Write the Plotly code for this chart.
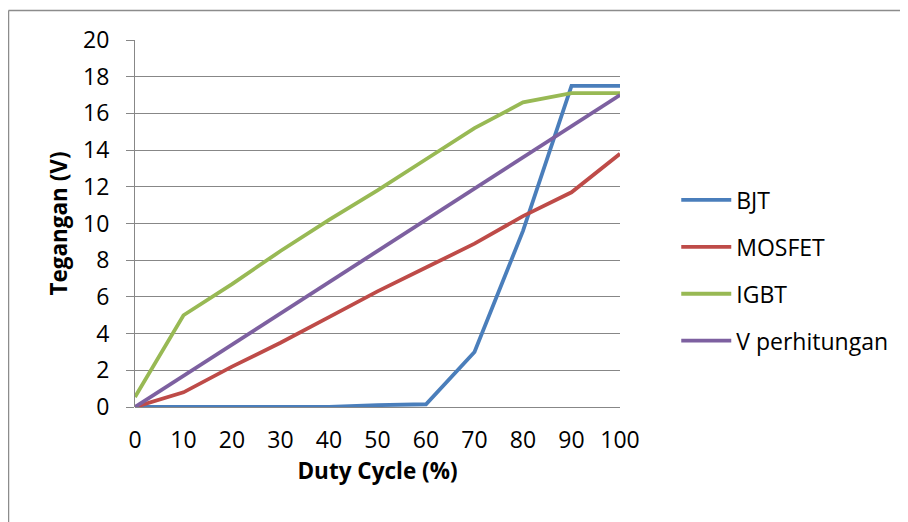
import plotly.graph_objects as go

duty = [0, 10, 20, 30, 40, 50, 60, 70, 80, 90, 100]
bjt = [0, 0, 0, 0, 0, 0.1, 0.15, 3.0, 9.6, 17.5, 17.5]
mosfet = [0, 0.8, 2.2, 3.5, 4.9, 6.3, 7.6, 8.9, 10.4, 11.7, 13.8]
igbt = [0.55, 5.0, 6.7, 8.5, 10.2, 11.8, 13.5, 15.2, 16.6, 17.1, 17.1]
v_hitung = [0, 1.7, 3.4, 5.1, 6.8, 8.5, 10.2, 11.9, 13.6, 15.3, 17.0]

names = ["BJT", "MOSFET", "IGBT", "V perhitungan"]
series = [bjt, mosfet, igbt, v_hitung]
colors = ["#4A7EBB", "#BE4B48", "#98B954", "#7D60A0"]

W, H = 908, 522
# page body has an 8px offset; margins chosen so the plot lands at 135..620 x 40..407
L, R, T, B = 127, 296, 32, 123
pw, ph = W - L - R, H - T - B

FONT = "Open Sans"
fig = go.Figure()
for i, (n, s, c) in enumerate(zip(names, series, colors)):
    fig.add_trace(go.Scatter(x=duty, y=s, name=n, mode="lines",
                             legendgroup=n,
                             line=dict(color=c, width=3.8)))

grid = "#878787"
fig.update_layout(
    width=W, height=H,
    margin=dict(l=L, r=R, t=T, b=B, pad=0),
    paper_bgcolor="white", plot_bgcolor="white",
    font=dict(family=FONT, size=23, color="black"),
    showlegend=True,
    legend=dict(x=1.116, y=0.372, xanchor="left", yanchor="middle",
                font=dict(size=23), tracegroupgap=14, itemwidth=50,
                bgcolor="rgba(0,0,0,0)"),
    xaxis=dict(range=[0, 100], tickvals=duty, ticktext=[str(d) for d in duty],
               showgrid=False, zeroline=False, showline=False,
               ticks="", ticklabelstandoff=17,
               title=dict(text="<b>Duty Cycle (%)</b>", standoff=8,
                          font=dict(size=22.5))),
    yaxis=dict(range=[0, 20], dtick=2, showgrid=True, gridcolor=grid, gridwidth=1.2,
               zeroline=True, zerolinecolor=grid, zerolinewidth=1.2,
               showline=True, linecolor=grid, linewidth=1.2,
               ticks="outside", ticklen=8, tickcolor=grid, tickwidth=1.2,
               ticklabelstandoff=12,
               title=dict(text="<b>Tegangan (V)</b>", standoff=9,
                          font=dict(size=22.5))),
)

# chart-area border (left and top only visible)
bx = (0.5 - L) / pw
by = (H - B - 2.5) / ph
fig.add_shape(type="line", xref="paper", yref="paper", x0=bx, x1=bx, y0=by,
              y1=-(H - B) / ph, line=dict(color="#8c8c8c", width=1.5))
fig.add_shape(type="line", xref="paper", yref="paper", x0=bx, x1=(W - L) / pw,
              y0=by, y1=by, line=dict(color="#8c8c8c", width=1.5))

fig.write_html("out.html")
